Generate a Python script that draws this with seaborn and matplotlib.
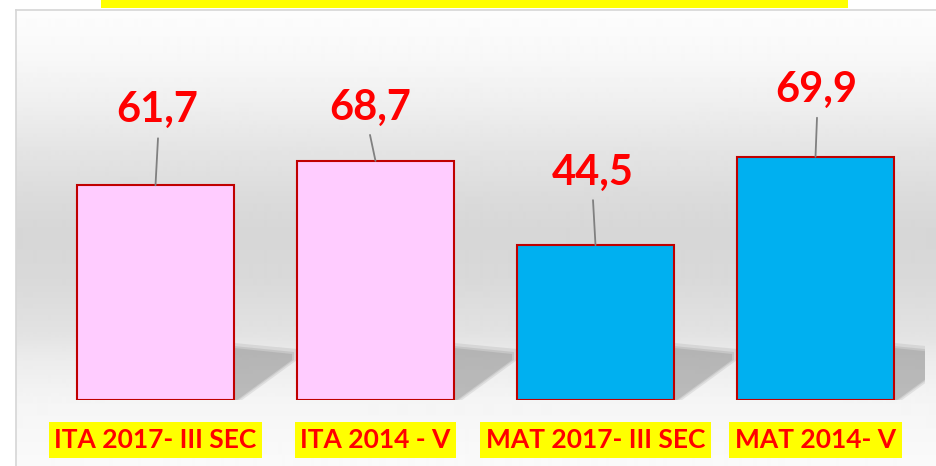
import seaborn as sns
import matplotlib.pyplot as plt
import numpy as np
from matplotlib.patches import Polygon, Rectangle

# chart data
categories = ['ITA 2017- III SEC', 'ITA 2014 - V', 'MAT 2017- III SEC', 'MAT 2014- V']
values = [61.7, 68.7, 44.5, 69.9]
bar_colors = ['#FFCCFF', '#FFCCFF', '#00B0F0', '#00B0F0']
value_labels = ['61,7', '68,7', '44,5', '69,9']

# label placement (pixels above the bar top)
label_dx = [1.5, -5.5, -3, 0.5]
label_dy = [63, 41, 60, 55]
line_dx = [2.5, -5.5, -2.5, 1.5]
line_dy = [47, 26, 45, 39]

sns.set_style('white')
plt.rcParams['font.family'] = ['Lato', 'DejaVu Sans']

W, H = 937, 466
fig = plt.figure(figsize=(W / 100, H / 100), dpi=100)
fig.patch.set_facecolor('white')

# gradient background of the chart area
bg = fig.add_axes([16 / W, 0, (W - 16) / W, (H - 10) / H])
bg.set_zorder(0)
rows = np.arange(10, H)
stops_y = [10, 60, 100, 150, 200, 235, 280, 330, 360, 400, 466]
stops_c = [0.992, 0.97, 0.94, 0.895, 0.857, 0.84, 0.852, 0.885, 0.925, 0.96, 0.98]
grad = np.interp(rows, stops_y, stops_c)
bg.imshow(grad[:, None], cmap='gray', vmin=0, vmax=1, aspect='auto',
          extent=(0, 1, 0, 1), origin='upper', interpolation='bilinear')
bg.set_xticks([])
bg.set_yticks([])
for side in ['right', 'bottom']:
    bg.spines[side].set_visible(False)
for side in ['left', 'top']:
    bg.spines[side].set_color('#d6d6d6')
    bg.spines[side].set_linewidth(1.2)

# yellow strip of the (cut off) title
fig.patches.append(Rectangle((101 / W, 1 - 7.7 / H), 747 / W, 7.7 / H,
                             transform=fig.transFigure, facecolor='#FFFF00',
                             edgecolor='none', zorder=5))

# main axes
px_per_unit = 3.48
ax = fig.add_axes([45.5 / W, 66 / H, 880 / W, 390 / H])
ax.set_zorder(1)
ax.patch.set_alpha(0)

sns.barplot(x=categories, y=values, hue=categories, palette=bar_colors,
            width=0.714, edgecolor='#C00000', linewidth=1.5, saturation=1,
            legend=False, ax=ax, zorder=3)

ax.set_xlim(-0.5, 3.5)
ax.set_ylim(0, 390 / px_per_unit)

# soft shadows behind the bars
sx = 1 / 220
sy = 1 / px_per_unit
for p in list(ax.patches):
    xr = p.get_x() + p.get_width()
    for k, a in zip([5, 2, 0], [0.14, 0.17, 0.2]):
        pts = [(-6, 0), (-6, 53 + k), (0, 52 + k), (58 + k, 46 + k), (58 + k, 40),
               (3 + k, 0)]
        ax.add_patch(Polygon([(xr + x * sx, y * sy) for x, y in pts],
                             closed=True, facecolor='#707070', edgecolor='none',
                             alpha=a, zorder=2))

# value labels with leader lines
for i, v in enumerate(values):
    ax.annotate(value_labels[i], xy=(i, v), xytext=(label_dx[i], label_dy[i]),
                textcoords='offset pixels', ha='center', va='baseline',
                fontsize=30, fontweight='bold', color='#FF0000', zorder=6)
    ax.annotate('', xy=(i, v), xytext=(line_dx[i], line_dy[i]),
                textcoords='offset pixels',
                arrowprops=dict(arrowstyle='-', color='#808080', lw=1.3,
                                shrinkA=0, shrinkB=0), zorder=4)

ax.set_xticks(range(len(categories)))
ax.set_xticklabels(categories, fontsize=19, fontweight='bold', color='#FF0000')
for lbl in ax.get_xticklabels():
    lbl.set_bbox(dict(boxstyle='square,pad=0.22', facecolor='#FFFF00', edgecolor='none'))
ax.tick_params(axis='x', length=0, pad=20)
ax.set_yticks([])
ax.set_xlabel('')
ax.set_ylabel('')
for s in ax.spines.values():
    s.set_visible(False)

fig.savefig('out.png', dpi=100)
